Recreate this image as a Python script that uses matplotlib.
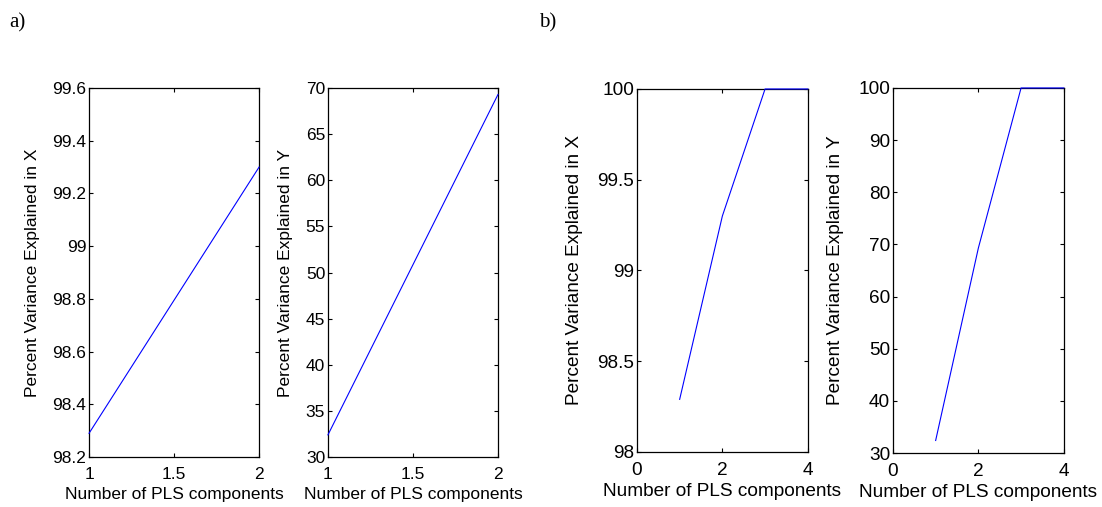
import numpy as np
import matplotlib
matplotlib.use('Agg')
import matplotlib.pyplot as plt

### DATA ###
# panel a) two PLS components
comp_a = [1, 2]
var_x_a = [98.29, 99.30]
var_y_a = [32.4, 69.3]

# panel b) four PLS components
comp_b = [1, 2, 3, 4]
var_x_b = [98.29, 99.30, 100.0, 100.0]
var_y_b = [32.4, 69.3, 100.0, 100.0]

xlabel = 'Number of PLS components'
ylabel_x = 'Percent Variance Explained in X'
ylabel_y = 'Percent Variance Explained in Y'

plt.rcParams['font.family'] = ['Liberation Sans', 'DejaVu Sans']


def matlab_axes(ax, fs):
    # MATLAB style box with inward ticks on all sides
    ax.tick_params(direction='in', top=True, right=True, length=3, width=0.8,
                   labelsize=fs, pad=2)
    ax.tick_params(axis='x', pad=7)
    for s in ax.spines.values():
        s.set_linewidth(0.9)


def draw(ax, x, y):
    ax.plot(x, y, color='#0000ff', lw=0.8, clip_on=False, zorder=5)


fig = plt.figure(figsize=(11.02, 5.07), dpi=100)
fa = 12.5
fb = 13.7

# a) left
ax1 = fig.add_axes([0.0808, 0.0986, 0.1543, 0.7278])
draw(ax1, comp_a, var_x_a)
ax1.set_xlim(1, 2)
ax1.set_ylim(98.2, 99.6)
ax1.set_xticks([1, 1.5, 2])
ax1.set_xticklabels(['1', '1.5', '2'])
ax1.set_yticks(np.arange(98.2, 99.61, 0.2))
ax1.set_yticklabels(['98.2', '98.4', '98.6', '98.8', '99', '99.2', '99.4', '99.6'])
ax1.set_xlabel(xlabel, fontsize=fa, labelpad=4)
ax1.set_ylabel(ylabel_x, fontsize=fa, labelpad=9)
matlab_axes(ax1, fa)

# a) right
ax2 = fig.add_axes([0.2976, 0.0986, 0.1543, 0.7278])
draw(ax2, comp_a, var_y_a)
ax2.set_xlim(1, 2)
ax2.set_ylim(30, 70)
ax2.set_xticks([1, 1.5, 2])
ax2.set_xticklabels(['1', '1.5', '2'])
ax2.set_yticks(np.arange(30, 71, 5))
ax2.set_xlabel(xlabel, fontsize=fa, labelpad=4)
ax2.set_ylabel(ylabel_y, fontsize=fa, labelpad=9)
matlab_axes(ax2, fa)

# b) left
ax3 = fig.add_axes([0.578, 0.1085, 0.155, 0.716])
draw(ax3, comp_b, var_x_b)
ax3.set_xlim(0, 4)
ax3.set_ylim(98, 100)
ax3.set_xticks([0, 2, 4])
ax3.set_yticks([98, 98.5, 99, 99.5, 100])
ax3.set_yticklabels(['98', '98.5', '99', '99.5', '100'])
ax3.set_xlabel(xlabel, fontsize=fb, labelpad=3)
ax3.set_ylabel(ylabel_x, fontsize=fb, labelpad=10)
matlab_axes(ax3, fb)

# b) right
ax4 = fig.add_axes([0.8103, 0.1065, 0.155, 0.72])
draw(ax4, comp_b, var_y_b)
ax4.set_xlim(0, 4)
ax4.set_ylim(30, 100)
ax4.set_xticks([0, 2, 4])
ax4.set_yticks(np.arange(30, 101, 10))
ax4.set_xlabel(xlabel, fontsize=fb, labelpad=3)
ax4.set_ylabel(ylabel_y, fontsize=fb, labelpad=10)
matlab_axes(ax4, fb)

# panel letters
fig.text(0.008, 0.955, 'a)', family=['Liberation Serif'], fontsize=15, va='center')
fig.text(0.489, 0.955, 'b)', family=['Liberation Serif'], fontsize=15, va='center')

fig.savefig('out.png', dpi=100)
